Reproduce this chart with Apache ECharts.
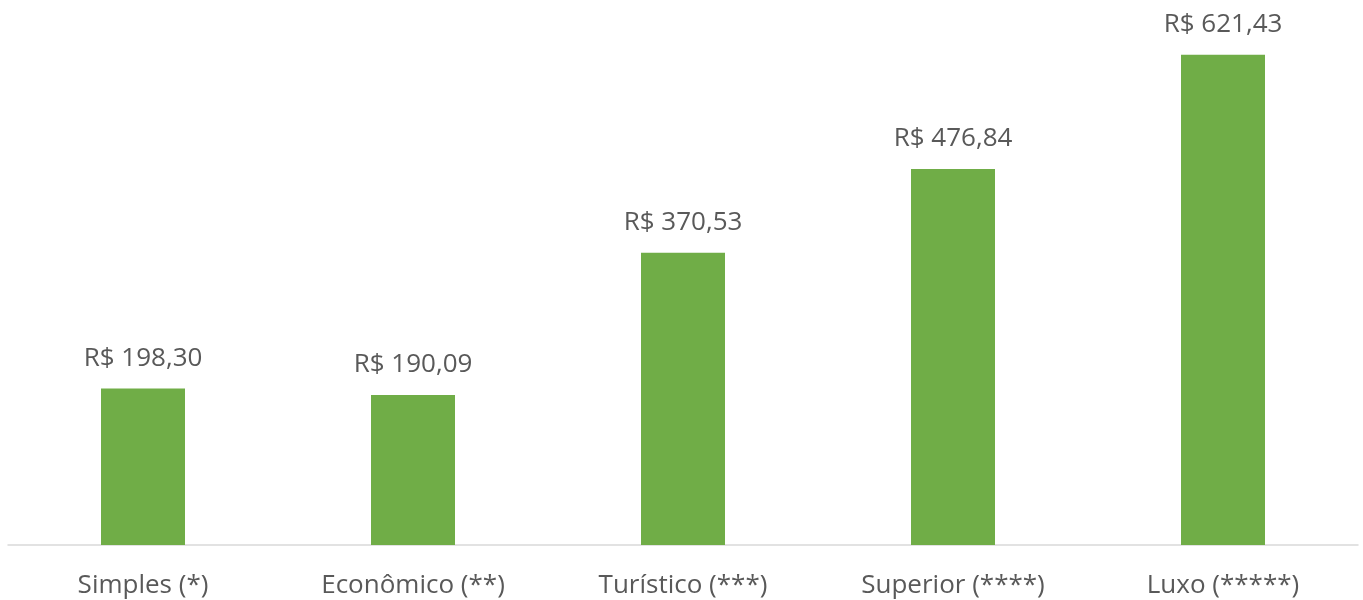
<!DOCTYPE html>
<html>
<head>
<meta charset="utf-8">
<script src="https://cdn.jsdelivr.net/npm/echarts@6/dist/echarts.min.js"></script>
<style>
  html, body { margin: 0; padding: 0; background: #ffffff; }
  #chart { width: 1363px; height: 600px; }
</style>
</head>
<body>
<div id="chart"></div>
<script>
// Diária média por categoria de hospedagem
const categories = ['Simples (*)', 'Econômico (**)', 'Turístico (***)', 'Superior (****)', 'Luxo (*****)'];
const dailyRates = [198.30, 190.09, 370.53, 476.84, 621.43];

const formatBRL = v => 'R$ ' + v.toFixed(2).replace('.', ',');

const chart = echarts.init(document.getElementById('chart'));
chart.setOption({
  animation: false,
  backgroundColor: '#ffffff',
  textStyle: { fontFamily: '"Open Sans", sans-serif' },
  grid: { left: 8, right: 5, top: 0, bottom: 55, containLabel: false },
  xAxis: {
    type: 'category',
    data: categories,
    axisLine: { lineStyle: { color: '#d9d9d9', width: 1.5 } },
    axisTick: { show: false },
    axisLabel: { color: '#595959', fontSize: 26, margin: 28 }
  },
  yAxis: {
    type: 'value',
    min: 0,
    max: 691,
    show: false,
    splitLine: { show: false }
  },
  series: [{
    type: 'bar',
    data: dailyRates,
    barWidth: 84,
    itemStyle: { color: '#70ad47' },
    label: {
      show: true,
      position: 'top',
      distance: 17,
      color: '#595959',
      fontSize: 26,
      formatter: p => formatBRL(p.value)
    }
  }]
});
</script>
</body>
</html>
